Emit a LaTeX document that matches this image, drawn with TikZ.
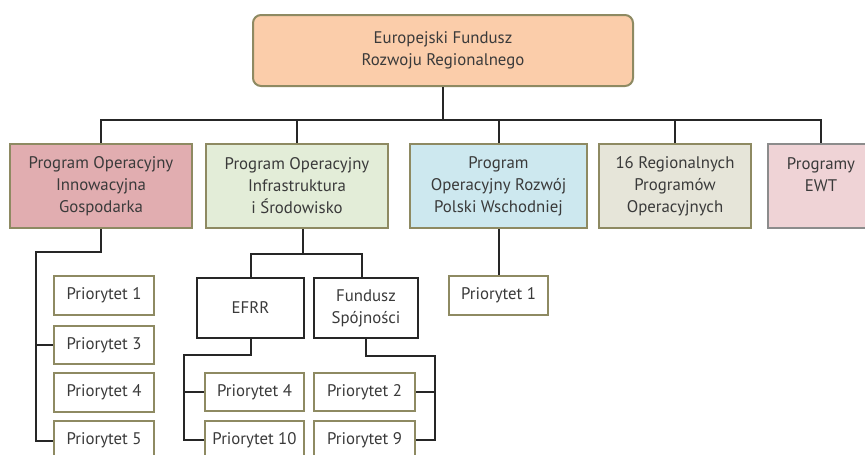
\documentclass[tikz,border=0pt]{standalone}
\usepackage{fontspec}
\setmainfont{PT Sans}
\usepackage{xcolor}
\usepackage{tikz}
\usetikzlibrary{positioning}

\definecolor{oliwka}{HTML}{8E8A62}
\definecolor{tekst}{HTML}{3A3A3A}
\definecolor{brzoskwinia}{HTML}{FBCDAA}
\definecolor{roz}{HTML}{E1ADB0}
\definecolor{ziel}{HTML}{E3EDD8}
\definecolor{nieb}{HTML}{CDE8EF}
\definecolor{bez}{HTML}{E6E5D9}
\definecolor{jroz}{HTML}{EFD3D6}
\definecolor{szary}{HTML}{8C8C8C}

\tikzset{
    box/.style={draw=oliwka, line width=2pt, align=center, inner sep=0pt,
        text=tekst, font=\fontsize{16.8}{22}\selectfont},
    fundusz/.style={box, rounded corners=8pt, fill=brzoskwinia,
        minimum width=380pt, minimum height=71pt},
    program/.style={box, minimum height=84pt},
    prio/.style={box, fill=white, minimum width=100pt, minimum height=38.5pt},
    zrodlo/.style={box, draw=black!85, minimum height=60pt},
    link/.style={draw=black!85, line width=2pt}
}

\begin{document}
\begin{tikzpicture}[x=1pt, y=-1pt]
        \useasboundingbox (0,0) rectangle (865,455);
        \node[fundusz] (efrr0) at (443,50.5) {Europejski Fundusz\\Rozwoju Regionalnego};
%
        \node[program, fill=roz, minimum width=182pt] (pig) at (101,186) {Program Operacyjny\\Innowacyjna\\Gospodarka};
        \node[program, fill=ziel, minimum width=182pt] (pois) at (297,186) {Program Operacyjny\\Infrastruktura\\i Środowisko};
        \node[program, fill=nieb, minimum width=177pt] (porpw) at (498.5,186) {Program\\Operacyjny Rozwój\\Polski Wschodniej};
        \node[program, fill=bez, minimum width=152pt] (rpo) at (675,186) {16 Regionalnych\\Programów\\Operacyjnych};
        \node[program, fill=jroz, draw=szary, minimum width=106pt] (ewt) at (821,186) {Programy\\EWT\\\phantom{E}};
%
        \node[prio] (pa1) at (104,295.5) {Priorytet 1};
        \node[prio, below=9pt of pa1] (pa3) {Priorytet 3};
        \node[prio, below=7pt of pa3] (pa4) {Priorytet 4};
        \node[prio, below=7.5pt of pa4] (pa5) {Priorytet 5};
%
        \node[zrodlo, minimum width=107pt] (efrr) at (250.5,308) {EFRR};
        \node[zrodlo, minimum width=104pt, right=8pt of efrr] (fs) {Fundusz\\Spójności};
        \node[prio, minimum width=99pt] (pb4) at (254.5,392) {Priorytet 4};
        \node[prio, minimum width=99pt, below=7.5pt of pb4] (pb10) {Priorytet 10};
        \node[prio, minimum width=101pt, right=8pt of pb4] (pc2) {Priorytet 2};
        \node[prio, minimum width=101pt, below=7.5pt of pc2] (pc9) {Priorytet 9};
%
        \node[prio, minimum width=99pt] (pd1) at (498.5,295.5) {Priorytet 1};
%
        \coordinate (szyna) at (443,120);
        \coordinate (pigk) at (36,252);
        \coordinate (poisk) at (303,253.5);
        \coordinate (efk) at (184,355);
        \coordinate (fsk) at (435,356);
%
        \draw[link] (efrr0) -- (szyna);
        \draw[link] (pig.north) |- (szyna) -| (ewt.north);
        \foreach \p in {pois,porpw,rpo}
            \draw[link] (\p.north) -- (\p.north |- szyna);
%
        \draw[link] (pig.south) |- (pigk) |- (pa5.west);
        \draw[link] (pigk |- pa3.west) -- (pa3.west);
%
        \draw[link] (pois.south -| poisk) -- (poisk);
        \draw[link] (efrr.north) |- (poisk) -| ([xshift=-4pt]fs.north);
        \draw[link] (efrr.south) |- (efk) |- (pb10.west);
        \draw[link] (efk |- pb4.west) -- (pb4.west);
        \draw[link] (fs.south) |- (fsk) |- (pc9.east);
        \draw[link] (fsk |- pc2.east) -- (pc2.east);
%
        \draw[link] (porpw.south) -- (pd1.north);
\end{tikzpicture}
\end{document}
